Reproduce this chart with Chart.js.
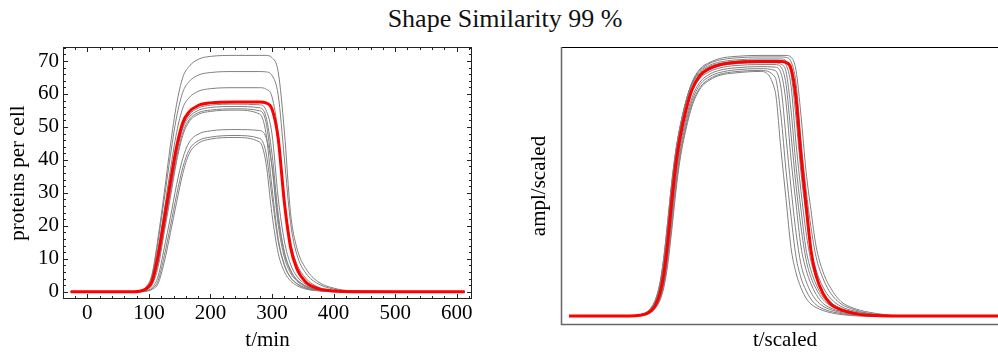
<!DOCTYPE html>
<html>
<head>
<meta charset="utf-8">
<script src="https://cdn.jsdelivr.net/npm/chart.js@4.4.1/dist/chart.umd.min.js"></script>
<style>
  html, body { margin: 0; padding: 0; background: #fff; overflow: hidden; width: 998px; height: 352px; }
  #title { position: absolute; left: 0; top: 6px; width: 1010px; text-align: center;
           font-family: 'Liberation Serif', 'Times New Roman', serif; font-size: 26px;
           line-height: 26px; color: #111; }
  #leftChart { position: absolute; left: 0; top: 0; }
  #rightChart { position: absolute; left: 500px; top: 0; }
</style>
</head>
<body>
<div id="title">Shape Similarity 99 %</div>
<canvas id="leftChart" width="490" height="352"></canvas>
<canvas id="rightChart" width="521" height="352"></canvas>
<script>
// time points (min) for the left panel
const leftTimes = [-27, 75, 85, 95, 105, 115, 125, 135, 145, 155, 165, 180, 200, 240,
                   280, 290, 300, 310, 320, 330, 340, 355, 375, 400, 430, 613];

// mean model curve (red), proteins per cell
const leftModel = [0, 0, 0.15, 0.83, 3.1, 11.1, 22.0, 33.4, 44.0, 51.3, 54.5, 56.5, 57.3, 57.6,
                   57.6, 57.3, 55.4, 46.5, 27.2, 13.6, 7.1, 2.9, 0.92, 0.22, 0, 0];

// single cell runs (grey)
const leftRuns = [
  [0, 0, 0.29, 1.35, 5.2, 16.5, 30.1, 44.5, 56.9, 65.0, 68.3, 70.5, 71.4, 71.7,
   71.7, 71.7, 71.0, 66.7, 48.8, 24.0, 13.5, 7.0, 3.0, 1.1, 0.3, 0],
  [0, 0, 0.27, 1.26, 4.8, 15.4, 28.1, 41.4, 53.0, 60.5, 63.7, 65.7, 66.5, 66.8,
   66.8, 66.7, 65.6, 59.7, 40.6, 21.0, 11.5, 5.6, 2.4, 0.8, 0.2, 0],
  [0, 0, 0.19, 0.99, 3.7, 13.0, 24.8, 37.1, 48.3, 55.7, 58.8, 60.8, 61.6, 61.9,
   61.9, 61.5, 59.1, 48.0, 27.9, 15.1, 8.6, 4.05, 1.4, 0.41, 0.04, 0],
  [0, 0, 0.11, 0.73, 2.7, 9.9, 20.7, 31.9, 42.6, 50.1, 53.6, 55.7, 56.6, 56.9,
   56.7, 55.2, 47.8, 28.5, 15.4, 8.4, 4.75, 2.2, 0.73, 0.2, 0, 0],
  [0, 0, 0.11, 0.72, 2.7, 9.8, 20.5, 31.5, 42.0, 49.5, 52.9, 55.0, 55.9, 56.2,
   55.8, 53.2, 41.8, 23.6, 12.2, 6.6, 3.7, 1.7, 0.54, 0.13, 0, 0],
  [0, 0, 0.07, 0.62, 2.3, 8.7, 19.2, 30.0, 40.6, 48.3, 52.1, 54.3, 55.1, 55.5,
   54.9, 51.6, 37.7, 20.4, 10.5, 5.7, 3.3, 1.45, 0.48, 0.1, 0, 0],
  [0, 0, 0.03, 0.53, 2.0, 7.6, 18.1, 28.7, 39.5, 47.4, 51.5, 53.8, 54.7, 55.1,
   53.9, 48.3, 31.5, 16.2, 8.3, 4.4, 2.5, 1.05, 0.34, 0.02, 0, 0],
  [0, 0, 0, 0.30, 1.18, 4.7, 13.3, 22.6, 32.5, 40.4, 45.2, 47.8, 48.8, 49.2,
   48.9, 46.9, 38.2, 22.1, 11.7, 6.4, 3.7, 1.7, 0.57, 0.16, 0, 0],
  [0, 0, 0, 0.19, 0.89, 3.4, 10.9, 19.9, 29.4, 37.6, 42.9, 45.8, 46.9, 47.4,
   46.5, 42.4, 28.8, 15.3, 8.0, 4.3, 2.5, 1.1, 0.37, 0.07, 0, 0],
  [0, 0, 0, 0.11, 0.67, 2.5, 9.0, 17.9, 27.1, 35.8, 41.7, 45.0, 46.3, 46.8,
   45.4, 39.3, 23.4, 11.7, 6.1, 3.3, 1.9, 0.8, 0.26, 0, 0, 0]
];

// scaled time for the right panel
const rightTimes = [0, 0.61, 0.71, 0.79, 0.86, 0.91, 0.95, 0.99, 1.03, 1.07, 1.11, 1.17, 1.23, 1.31,
                    1.41, 1.51, 1.66, 1.91, 2.06, 2.12, 2.17, 2.22, 2.27, 2.32, 2.37, 2.42, 2.47,
                    2.54, 2.62, 2.72, 2.84, 2.99, 3.31, 4.41];

const rightModel = [0, 0, 0.003, 0.012, 0.04, 0.09, 0.17, 0.30, 0.46, 0.60, 0.70, 0.81, 0.89, 0.945,
                    0.973, 0.987, 0.996, 1.0, 1.0, 1.0, 0.996, 0.973, 0.857, 0.63, 0.44, 0.257, 0.16,
                    0.089, 0.046, 0.0245, 0.0116, 0.0029, 0, 0];

const rightRuns = [
  [0, 0.0003, 0.0042, 0.016, 0.051, 0.113, 0.207, 0.348, 0.507, 0.640, 0.735, 0.843, 0.919, 0.971,
   0.997, 1.012, 1.020, 1.024, 1.024, 1.024, 1.024, 1.017, 0.966, 0.788, 0.570, 0.415, 0.276,
   0.174, 0.108, 0.057, 0.032, 0.016, 0.002, 0],
  [0, 0.0005, 0.0048, 0.018, 0.056, 0.122, 0.223, 0.366, 0.522, 0.649, 0.741, 0.845, 0.916, 0.966,
   0.993, 1.006, 1.014, 1.018, 1.018, 1.018, 1.016, 1.0, 0.916, 0.689, 0.499, 0.348, 0.234,
   0.148, 0.088, 0.048, 0.027, 0.011, 0.0014, 0],
  [0, 0.0006, 0.0053, 0.020, 0.061, 0.131, 0.237, 0.384, 0.535, 0.657, 0.744, 0.845, 0.913, 0.961,
   0.986, 0.998, 1.006, 1.010, 1.010, 1.010, 1.003, 0.952, 0.778, 0.563, 0.401, 0.262, 0.182,
   0.114, 0.068, 0.038, 0.021, 0.0103, 0.0007, 0],
  [0, 0.0006, 0.0052, 0.020, 0.060, 0.131, 0.236, 0.382, 0.533, 0.653, 0.741, 0.841, 0.909, 0.956,
   0.981, 0.993, 1.001, 1.005, 1.005, 1.003, 0.987, 0.905, 0.680, 0.490, 0.330, 0.216, 0.152,
   0.094, 0.053, 0.031, 0.017, 0.0075, 0, 0],
  [0, 0.0003, 0.0041, 0.016, 0.050, 0.109, 0.201, 0.338, 0.493, 0.622, 0.714, 0.819, 0.893, 0.943,
   0.969, 0.983, 0.991, 0.995, 0.995, 0.989, 0.960, 0.809, 0.590, 0.418, 0.263, 0.179, 0.125,
   0.075, 0.045, 0.026, 0.014, 0.0055, 0, 0],
  [0, 0, 0.003, 0.012, 0.040, 0.089, 0.168, 0.296, 0.454, 0.593, 0.692, 0.800, 0.879, 0.934,
   0.961, 0.975, 0.984, 0.988, 0.988, 0.978, 0.911, 0.714, 0.514, 0.349, 0.223, 0.152, 0.108,
   0.065, 0.040, 0.024, 0.012, 0.004, 0, 0],
  [0, 0, 0.0026, 0.011, 0.035, 0.078, 0.147, 0.262, 0.412, 0.554, 0.662, 0.776, 0.859, 0.919,
   0.951, 0.966, 0.975, 0.980, 0.978, 0.954, 0.840, 0.617, 0.441, 0.272, 0.183, 0.126, 0.086,
   0.050, 0.031, 0.018, 0.0096, 0.0027, 0, 0],
  [0, 0, 0.0025, 0.010, 0.033, 0.073, 0.136, 0.244, 0.389, 0.532, 0.644, 0.761, 0.846, 0.909,
   0.942, 0.957, 0.967, 0.972, 0.965, 0.896, 0.703, 0.505, 0.329, 0.203, 0.138, 0.093, 0.063,
   0.039, 0.025, 0.014, 0.0062, 0.0012, 0, 0],
  [0, 0, 0.0023, 0.0095, 0.031, 0.068, 0.125, 0.227, 0.367, 0.511, 0.627, 0.746, 0.833, 0.898,
   0.933, 0.950, 0.960, 0.965, 0.939, 0.785, 0.572, 0.392, 0.234, 0.150, 0.101, 0.067, 0.045,
   0.029, 0.018, 0.010, 0.003, 0.0005, 0, 0],
  [0, 0, 0.0021, 0.0089, 0.029, 0.062, 0.115, 0.210, 0.346, 0.493, 0.613, 0.734, 0.824, 0.892,
   0.928, 0.946, 0.955, 0.961, 0.886, 0.651, 0.461, 0.269, 0.170, 0.111, 0.071, 0.047, 0.034,
   0.022, 0.013, 0.0063, 0.0017, 0, 0, 0]
];

const serif = "'Liberation Serif', 'Times New Roman', serif";
Chart.defaults.font.family = serif;
Chart.defaults.color = '#000';

// pairs x and y arrays into points
function toPoints(xs, ys) {
  return xs.map((x, i) => ({ x: x, y: ys[i] }));
}

// frame around the plot area, with inward ticks (Mathematica style)
const frameTicks = {
  id: 'frameTicks',
  afterDatasetsDraw(chart, args, opts) {
    const { ctx, chartArea: a } = chart;
    const xs = chart.scales.x, ys = chart.scales.y;
    ctx.save();
    const t = opts.ticks;
    if (t) {
      ctx.strokeStyle = opts.color;
      ctx.lineWidth = 1;
      ctx.beginPath();
      for (let v = Math.ceil(xs.min / t.xMinor) * t.xMinor; v <= xs.max; v += t.xMinor) {
        const px = Math.round(xs.getPixelForValue(v)) + 0.5;
        const len = Math.abs(v / t.xMajor - Math.round(v / t.xMajor)) < 1e-6 ? t.major : t.minor;
        ctx.moveTo(px, a.bottom); ctx.lineTo(px, a.bottom - len);
        ctx.moveTo(px, a.top); ctx.lineTo(px, a.top + len);
      }
      for (let v = Math.ceil(ys.min / t.yMinor) * t.yMinor; v <= ys.max; v += t.yMinor) {
        const py = Math.round(ys.getPixelForValue(v)) + 0.5;
        const len = Math.abs(v / t.yMajor - Math.round(v / t.yMajor)) < 1e-6 ? t.major : t.minor;
        ctx.moveTo(a.left, py); ctx.lineTo(a.left + len, py);
        ctx.moveTo(a.right, py); ctx.lineTo(a.right - len, py);
      }
      ctx.stroke();
    }
    const s = opts.sides;
    const line = (side, x1, y1, x2, y2) => {
      if (!side) return;
      ctx.strokeStyle = side.color;
      ctx.lineWidth = side.width;
      ctx.beginPath(); ctx.moveTo(x1, y1); ctx.lineTo(x2, y2); ctx.stroke();
    };
    line(s.top, a.left, a.top + 0.5, a.right, a.top + 0.5);
    line(s.bottom, a.left, a.bottom - 0.5, a.right, a.bottom - 0.5);
    line(s.left, a.left + 0.5, a.top, a.left + 0.5, a.bottom);
    line(s.right, a.right - 0.5, a.top, a.right - 0.5, a.bottom);
    ctx.restore();
  }
};

function buildDatasets(times, model, runs, redWidth) {
  const sets = [{
    data: toPoints(times, model),
    borderColor: '#ff0000',
    borderWidth: redWidth
  }];
  runs.forEach(r => {
    sets.push({
      data: toPoints(times, r),
      borderColor: '#808080',
      borderWidth: 1
    });
  });
  return sets;
}

const commonElements = {
  point: { radius: 0, hoverRadius: 0 },
  line: { fill: false, cubicInterpolationMode: 'monotone' }
};

const frameColor = { color: '#222', width: 1 };

// left panel: proteins per cell vs time
new Chart(document.getElementById('leftChart'), {
  type: 'line',
  data: { datasets: buildDatasets(leftTimes, leftModel, leftRuns, 3) },
  options: {
    responsive: false,
    animation: false,
    elements: commonElements,
    layout: { padding: { left: 0, top: 47, right: 18, bottom: 0 } },
    scales: {
      x: {
        type: 'linear',
        min: -39.5,
        max: 624.8,
        grid: { display: false, drawTicks: false },
        border: { display: false },
        ticks: { stepSize: 100, includeBounds: false, padding: 2, maxRotation: 0,
                 font: { size: 21 } },
        title: { display: true, text: 't/min', font: { size: 21, lineHeight: 1 },
                 padding: { top: 0, bottom: 1 } },
        afterFit: (scale) => { scale.height = 53; }
      },
      y: {
        min: -2.21,
        max: 74.25,
        grid: { display: false, drawTicks: false },
        border: { display: false },
        ticks: { stepSize: 10, includeBounds: false, padding: 4, font: { size: 21 } },
        title: { display: true, text: 'proteins per cell', font: { size: 21, lineHeight: 1 },
                 padding: { top: 8, bottom: 0 } },
        afterFit: (scale) => { scale.width = 63; }
      }
    },
    plugins: {
      legend: { display: false },
      tooltip: { enabled: false },
      frameTicks: {
        color: '#222',
        ticks: { xMajor: 100, xMinor: 20, yMajor: 10, yMinor: 2, major: 5, minor: 3 },
        sides: { top: frameColor, bottom: frameColor, left: frameColor, right: frameColor }
      }
    }
  },
  plugins: [frameTicks]
});

// right panel: amplitude and time scaled
new Chart(document.getElementById('rightChart'), {
  type: 'line',
  data: { datasets: buildDatasets(rightTimes, rightModel, rightRuns, 3) },
  options: {
    responsive: false,
    animation: false,
    elements: commonElements,
    layout: { padding: { left: 0, top: 47, right: 12, bottom: 0 } },
    scales: {
      x: {
        type: 'linear',
        min: -0.08,
        max: 4.40,
        grid: { display: false, drawTicks: false },
        border: { display: false },
        ticks: { display: false },
        title: { display: true, text: 't/scaled', font: { size: 21, lineHeight: 1 },
                 padding: { top: 0, bottom: 1 } },
        afterFit: (scale) => { scale.height = 27; }
      },
      y: {
        min: -0.035,
        max: 1.057,
        grid: { display: false, drawTicks: false },
        border: { display: false },
        ticks: { display: false },
        title: { display: true, text: 'ampl/scaled', font: { size: 21, lineHeight: 1 },
                 padding: { top: 29, bottom: 0 } },
        afterFit: (scale) => { scale.width = 61; }
      }
    },
    plugins: {
      legend: { display: false },
      tooltip: { enabled: false },
      frameTicks: {
        sides: {
          top: { color: '#000', width: 1 },
          bottom: { color: '#666', width: 1.5 },
          left: { color: '#666', width: 1.5 },
          right: { color: '#000', width: 1 }
        }
      }
    }
  },
  plugins: [frameTicks]
});
</script>
</body>
</html>
